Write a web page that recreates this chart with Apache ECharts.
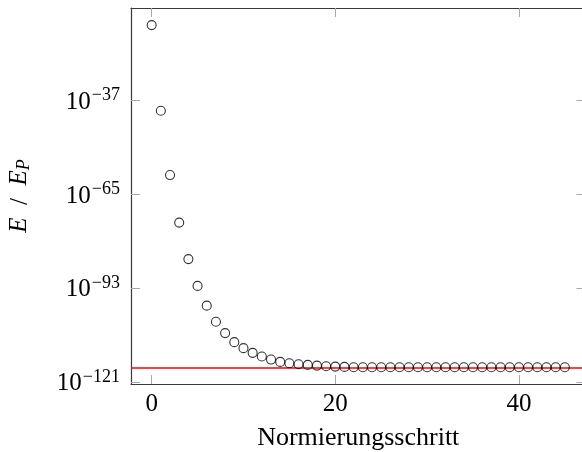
<!DOCTYPE html>
<html><head><meta charset="utf-8">
<script src="https://cdn.jsdelivr.net/npm/echarts@6/dist/echarts.min.js"></script>
<style>html,body{margin:0;padding:0;background:#fff}#c{width:582px;height:452px}</style>
</head><body><div id="c"></div>
<script>
// Normalisation step index
const steps = [0,1,2,3,4,5,6,7,8,9,10,11,12,13,14,15,16,17,18,19,20,21,22,23,24,25,26,27,28,29,30,31,32,33,34,35,36,37,38,39,40,41,42,43,44,45];
// log10(E / E_P)
const logEnergy = [-14.4,-40.0,-59.2,-73.4,-84.3,-92.3,-98.2,-103.0,-106.4,-109.1,-110.9,-112.3,-113.4,-114.3,-115.0,-115.4,-115.7,-115.9,-116.1,-116.3,-116.4,-116.5,-116.6,-116.6,-116.6,-116.6,-116.6,-116.6,-116.6,-116.6,-116.6,-116.6,-116.6,-116.6,-116.6,-116.6,-116.6,-116.6,-116.6,-116.6,-116.6,-116.6,-116.6,-116.6,-116.6,-116.6];
// red reference level, log10(E / E_P)
const referenceLevel = -116.6;
const xTicks = [0, 20, 40];
const yTicks = [-121, -93, -65, -37];

const FONT = 'Liberation Serif';
const chart = echarts.init(document.getElementById('c'), null, {renderer: 'canvas'});
const frame = {show: true, onZero: false, lineStyle: {color: '#3a3a3a', width: 1.2}};
const tick = {show: true, inside: true, length: 9, lineStyle: {color: '#a8a8a8', width: 1}};
const xMin = -2.25, xMax = 47.25, yMin = -121.6, yMax = -9.3;

chart.setOption({
  animation: false,
  backgroundColor: '#fff',
  grid: {left: 131, top: 8, width: 454.5, height: 376, containLabel: false, outerBoundsMode: 'none'},
  xAxis: [{
    type: 'value', min: xMin, max: xMax, position: 'bottom',
    axisLine: frame,
    axisTick: Object.assign({customValues: xTicks}, tick),
    axisLabel: {customValues: xTicks, fontFamily: FONT, fontSize: 25, color: '#000', margin: 8},
    splitLine: {show: false},
    name: 'Normierungsschritt', nameLocation: 'middle', nameGap: 41,
    nameTextStyle: {fontFamily: FONT, fontSize: 26, color: '#000'}
  }, {
    type: 'value', min: xMin, max: xMax, position: 'top',
    axisLine: frame,
    axisTick: Object.assign({customValues: xTicks}, tick),
    axisLabel: {show: false}, splitLine: {show: false}
  }],
  yAxis: [{
    type: 'value', min: yMin, max: yMax, position: 'left',
    axisLine: frame,
    axisTick: Object.assign({customValues: yTicks}, tick),
    axisLabel: {
      customValues: yTicks, margin: 11,
      formatter: v => '{b|10}{s|\u2212' + Math.abs(v) + '}',
      rich: {
        b: {fontFamily: FONT, fontSize: 25, color: '#000', lineHeight: 28, verticalAlign: 'bottom'},
        s: {fontFamily: FONT, fontSize: 18, color: '#000', lineHeight: 18, verticalAlign: 'top', padding: [0, 0, 0, 1]}
      }
    },
    splitLine: {show: false},
    name: '{i|E}  /  {i|E}{p|P}', nameLocation: 'middle', nameGap: 98, nameRotate: 90,
    nameTextStyle: {
      fontFamily: FONT, fontSize: 25, color: '#000',
      rich: {
        i: {fontFamily: FONT, fontStyle: 'italic', fontSize: 25, color: '#000', lineHeight: 26, verticalAlign: 'top'},
        p: {fontFamily: FONT, fontStyle: 'italic', fontSize: 18, color: '#000', lineHeight: 18, verticalAlign: 'bottom'}
      }
    }
  }, {
    type: 'value', min: yMin, max: yMax, position: 'right',
    axisLine: frame,
    axisTick: Object.assign({customValues: yTicks}, tick),
    axisLabel: {show: false}, splitLine: {show: false}
  }],
  series: [{
    type: 'scatter',
    data: steps.map((s, i) => [s, logEnergy[i]]),
    symbol: 'circle', symbolSize: 9,
    itemStyle: {color: 'rgba(255,255,255,0)', borderColor: '#000', borderWidth: 1.1},
    z: 2,
    markLine: {
      silent: true, symbol: ['none', 'none'], label: {show: false},
      lineStyle: {color: '#ff0000', width: 1.5, type: 'solid'},
      data: [{yAxis: referenceLevel}],
      z: 1
    }
  }]
});
</script>
</body></html>
